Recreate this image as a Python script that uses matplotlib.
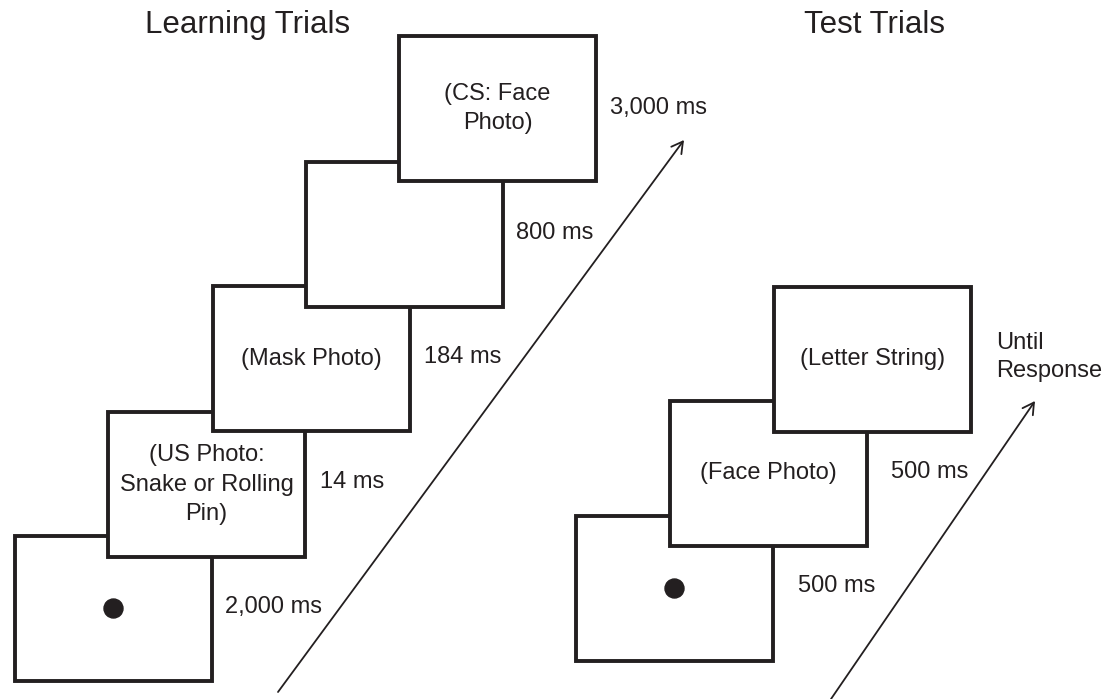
import matplotlib
matplotlib.use("Agg")
import matplotlib.pyplot as plt
from matplotlib.patches import Rectangle, Circle

# ---- content ----
panel_titles = ["Learning Trials", "Test Trials"]
learning_labels = ["", "(US Photo:\nSnake or Rolling\nPin)", "(Mask Photo)", "", "(CS: Face\nPhoto)"]
learning_durations = ["2,000 ms", "14 ms", "184 ms", "800 ms", "3,000 ms"]
learning_fixation = [True, False, False, False, False]
test_labels = ["", "(Face Photo)", "(Letter String)"]
test_durations = ["500 ms", "500 ms", "Until\nResponse"]
test_fixation = [True, False, False]

# ---- layout (pixel space) ----
W, H = 1105, 699
BOX_W, BOX_H = 197, 145
learning_left = [15, 108, 213, 306, 399]
learning_top = [536, 412, 286, 162, 36]
test_left = [576, 670, 774]
test_top = [516, 401, 287]
learning_dur_pos = [(225, 607), (320, 482), (424, 357), (516, 233), (610, 108)]
test_dur_pos = [(798, 586), (891, 472), (996, 357)]
learning_arrow = ((278, 692), (684, 140))
test_arrow = ((831, 699), (1035, 401))
title_pos = [(248, 25), (874, 25)]

INK = "#231f20"
FONT = "Liberation Sans"

fig = plt.figure(figsize=(W / 100, H / 100), dpi=100)
ax = fig.add_axes([0, 0, 1, 1])
ax.set_xlim(0, W)
ax.set_ylim(H, 0)
ax.axis("off")


def draw_sequence(lefts, tops, labels, fixation, durs, dur_pos):
    for i, (l, t, lab, fx, d, dp) in enumerate(zip(lefts, tops, labels, fixation, durs, dur_pos)):
        z = 2 + i
        ax.add_patch(Rectangle((l, t), BOX_W, BOX_H, facecolor="white",
                               edgecolor=INK, lw=2.8, zorder=z, joinstyle="miter"))
        cx, cy = l + BOX_W / 2, t + BOX_H / 2
        if fx:
            ax.add_patch(Circle((cx, cy), 9.5, color=INK, zorder=z + 0.5))
        if lab:
            ax.text(cx, cy, lab, ha="center", va="center", multialignment="center",
                    fontsize=17, family=FONT, color=INK, linespacing=1.42, zorder=z + 0.5)
        ax.text(dp[0], dp[1], d, ha="left", va="center", multialignment="left",
                fontsize=17, family=FONT, color=INK, linespacing=1.3, zorder=20)


draw_sequence(learning_left, learning_top, learning_labels, learning_fixation,
              learning_durations, learning_dur_pos)
draw_sequence(test_left, test_top, test_labels, test_fixation,
              test_durations, test_dur_pos)

for (tail, tip) in [learning_arrow, test_arrow]:
    ax.annotate("", xy=tip, xytext=tail,
                arrowprops=dict(arrowstyle="->,head_length=0.8,head_width=0.45",
                                lw=1.3, color=INK, shrinkA=0, shrinkB=0,
                                mutation_scale=10))

for t, (x, y) in zip(panel_titles, title_pos):
    ax.text(x, y, t, ha="center", va="center", fontsize=22.5, family=FONT, color=INK)

fig.savefig("out.png", dpi=100)
